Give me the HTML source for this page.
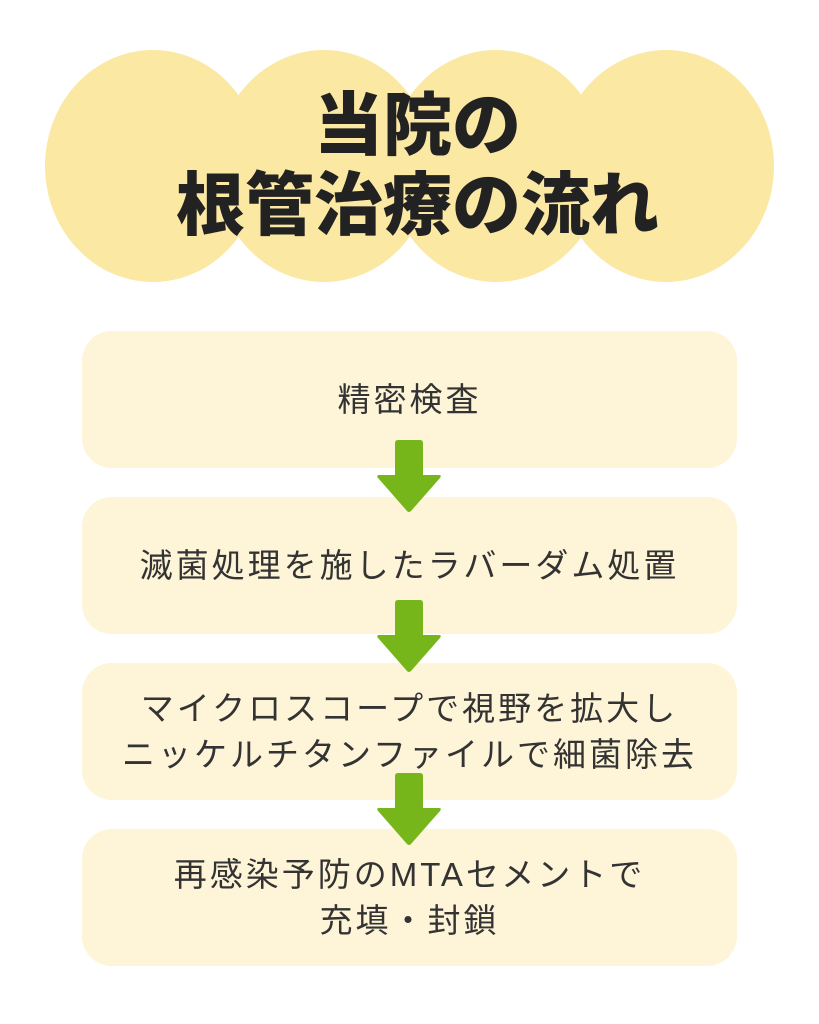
<!DOCTYPE html>
<html><head><meta charset="utf-8"><style>
body{margin:0;width:819px;height:1024px;background:#fff;position:relative;overflow:hidden;font-family:"Liberation Sans","Noto Sans CJK JP",sans-serif;}
.c{position:absolute;background:#fbe8a3;border-radius:50%;width:216px;height:232px;top:50px;}
.t{position:absolute;left:8px;width:819px;text-align:center;font-weight:900;color:#222;font-size:69px;line-height:80px;}
.b{position:absolute;left:82px;width:655px;height:137px;background:#fef4d7;border-radius:30px;display:flex;align-items:center;justify-content:center;text-align:center;color:#333;font-size:33px;line-height:46px;letter-spacing:3px;}
.a{position:absolute;left:376px;width:66px;}
</style></head><body>
<div class="c" style="left:45px"></div>
<div class="c" style="left:216px"></div>
<div class="c" style="left:388px"></div>
<div class="c" style="left:558px"></div>
<div class="t" style="top:86px">当院の</div>
<div class="t" style="top:166px">根管治療の流れ</div>
<div class="b" style="top:331px">精密検査</div>
<div class="b" style="top:497px">滅菌処理を施したラバーダム処置</div>
<div class="b" style="top:663px">マイクロスコープで視野を拡大し<br>ニッケルチタンファイルで細菌除去</div>
<div class="b" style="top:829px">再感染予防のMTAセメントで<br>充填・封鎖</div>
<svg class="a" style="top:440px" width="66" height="74"><path d="M19 3 Q19 0 22 0 H44 Q47 0 47 3 V35 H63 Q66 35 64 38 L35 71 Q33 73 31 71 L2 38 Q0 35 3 35 H19Z" fill="#77b61a"/></svg>
<svg class="a" style="top:600px" width="66" height="74"><path d="M19 3 Q19 0 22 0 H44 Q47 0 47 3 V35 H63 Q66 35 64 38 L35 71 Q33 73 31 71 L2 38 Q0 35 3 35 H19Z" fill="#77b61a"/></svg>
<svg class="a" style="top:773px" width="66" height="74"><path d="M19 3 Q19 0 22 0 H44 Q47 0 47 3 V35 H63 Q66 35 64 38 L35 71 Q33 73 31 71 L2 38 Q0 35 3 35 H19Z" fill="#77b61a"/></svg>
</body></html>
